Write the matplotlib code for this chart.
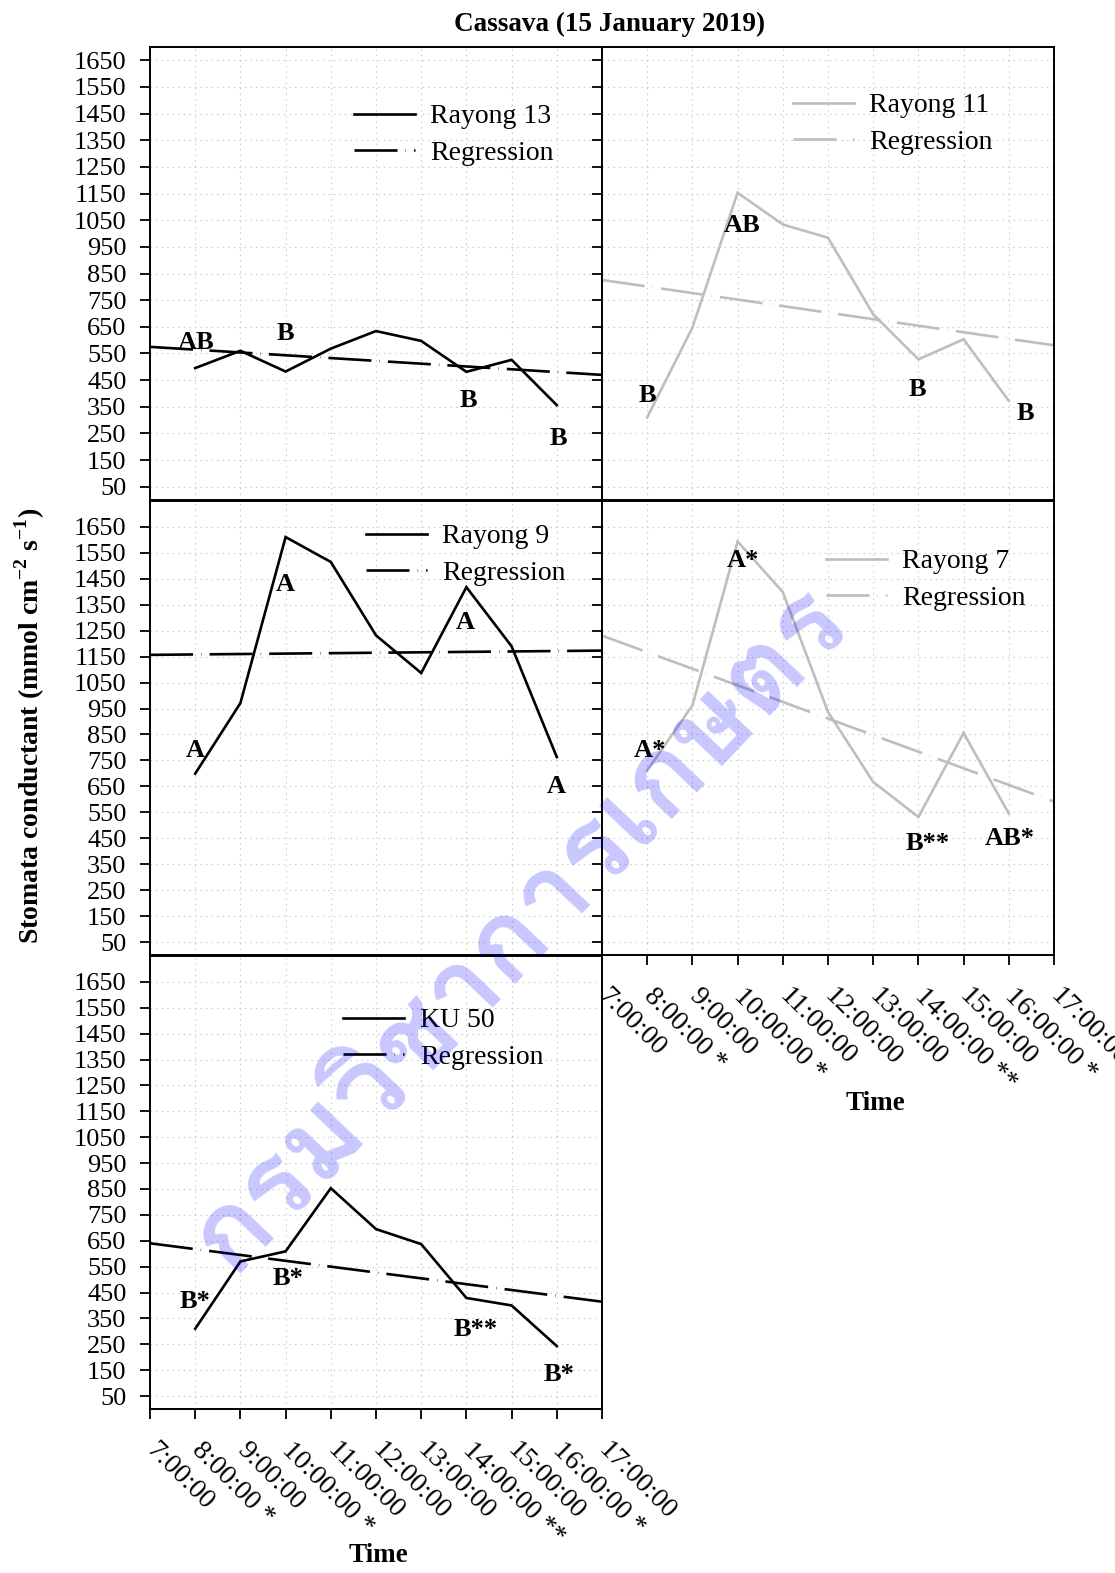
import numpy as np
import matplotlib
matplotlib.use("Agg")
import matplotlib.pyplot as plt
from matplotlib import font_manager
from matplotlib.ft2font import FT2Font

# ---- data ----
hours = [8, 9, 10, 11, 12, 13, 14, 15, 16]
tick_hours = list(range(7, 18))
tick_labels = ["7:00:00", "8:00:00 *", "9:00:00", "10:00:00 *", "11:00:00",
               "12:00:00", "13:00:00", "14:00:00 **", "15:00:00", "16:00:00 *",
               "17:00:00"]
y_ticks = list(range(50, 1651, 100))

rayong13 = [495, 560, 482, 568, 634, 597, 481, 526, 356]
rayong11 = [310, 647, 1153, 1034, 984, 697, 528, 603, 372]
rayong9 = [699, 971, 1611, 1515, 1232, 1087, 1418, 1190, 763]
rayong7 = [711, 962, 1594, 1399, 937, 667, 532, 856, 545]
ku50 = [310, 570, 609, 853, 695, 637, 429, 400, 243]

letters_r13 = ["AB", "B", "B", "B"]
letters_r11 = ["B", "AB", "B", "B"]
letters_r9 = ["A", "A", "A", "A"]
letters_r7 = ["A*", "A*", "B**", "AB*"]
letters_ku50 = ["B*", "B*", "B**", "B*"]

# where the letters sit (hour, value)
letter_pos_r13 = [(8.02, 592), (10.0, 626), (14.04, 375), (16.03, 232)]
letter_pos_r11 = [(8.0, 394), (10.1, 1030), (13.97, 416), (16.36, 326)]
letter_pos_r9 = [(8.0, 787), (9.99, 1427), (13.97, 1281), (15.98, 649)]
letter_pos_r7 = [(8.06, 787), (10.12, 1520), (14.21, 429), (16.03, 448)]
letter_pos_ku50 = [(8.0, 415), (10.05, 505), (14.2, 307), (16.05, 133)]

plt.rcParams["font.family"] = ["Liberation Serif", "DejaVu Serif"]
plt.rcParams["mathtext.fontset"] = "custom"
plt.rcParams["mathtext.rm"] = "Liberation Serif"
plt.rcParams["mathtext.bf"] = "Liberation Serif:bold"
plt.rcParams["lines.scale_dashes"] = False

BLACK = "black"
GREY = "#bebebe"
REG_DASH = (0, (31, 5.8, 0.3, 5.8))

W, H = 1115, 1573
fig = plt.figure(figsize=(W / 100, H / 100), dpi=100)


def frac(x0, y_top, x1, y_bot):
    return [x0 / W, 1 - y_bot / H, (x1 - x0) / W, (y_bot - y_top) / H]


panels = [
    dict(rect=frac(150, 47, 602, 500), ylim=1700, series=rayong13, name="Rayong 13",
         color=BLACK, letters=letters_r13, lpos=letter_pos_r13, leg=(0.420, 0.905),
         ylabels=True, xlabels=False),
    dict(rect=frac(602, 47, 1054, 500), ylim=1700, series=rayong11, name="Rayong 11",
         color=GREY, letters=letters_r11, lpos=letter_pos_r11, leg=(0.391, 0.929),
         ylabels=False, xlabels=False),
    dict(rect=frac(150, 501, 602, 955), ylim=1750, series=rayong9, name="Rayong 9",
         color=BLACK, letters=letters_r9, lpos=letter_pos_r9, leg=(0.447, 0.980),
         ylabels=True, xlabels=False),
    dict(rect=frac(602, 501, 1054, 955), ylim=1750, series=rayong7, name="Rayong 7",
         color=GREY, letters=letters_r7, lpos=letter_pos_r7, leg=(0.465, 0.925),
         ylabels=False, xlabels=True),
    dict(rect=frac(150, 956, 602, 1409), ylim=1750, series=ku50, name="KU 50",
         color=BLACK, letters=letters_ku50, lpos=letter_pos_ku50, leg=(0.397, 0.916),
         ylabels=True, xlabels=True),
]

for p in panels:
    ax = fig.add_axes(p["rect"])
    ax.set_xlim(7, 17)
    ax.set_ylim(0, p["ylim"])
    ax.set_xticks(tick_hours)
    ax.set_yticks(y_ticks)
    ax.grid(True, color="#c8c8c8", linestyle=(0, (1, 3)), linewidth=0.8)
    ax.set_axisbelow(True)

    ax.plot(hours, p["series"], color=p["color"], lw=1.9, label=p["name"],
            solid_joinstyle="miter")
    slope, icpt = np.polyfit(hours, p["series"], 1)
    xr = np.array([7, 17])
    ax.plot(xr, slope * xr + icpt, color=p["color"], lw=1.9,
            linestyle=REG_DASH, label="Regression")

    for txt, (hx, vy) in zip(p["letters"], p["lpos"]):
        ax.text(hx, vy, txt, ha="center", va="center", fontsize=19,
                fontweight="bold")

    ax.legend(loc="upper left", bbox_to_anchor=p["leg"], frameon=False,
              borderpad=0, fontsize=20, handlelength=2.2, handletextpad=0.55,
              labelspacing=0.4)

    for s in ax.spines.values():
        s.set_linewidth(1.4)
    ax.tick_params(axis="both", direction="out", length=7, width=1.3,
                   labelsize=19)
    ax.tick_params(axis="y", pad=10)
    if p["ylabels"]:
        ax.set_yticklabels([str(v) for v in y_ticks])
    else:
        ax.set_yticklabels([])
    if p["xlabels"]:
        ax.set_xticklabels(tick_labels, rotation=-45, ha="left", va="center",
                           rotation_mode="anchor", fontsize=20)
        ax.tick_params(axis="x", pad=20)
    else:
        ax.set_xticklabels([])

fig.text(610 / W, 1 - 24 / H, "Cassava (15 January 2019)", ha="center",
         va="center", fontsize=19.5, fontweight="bold")
fig.text(30 / W, 1 - 726 / H, r"Stomata conductant (mmol cm$^{\mathbf{-2}}$ s$^{\mathbf{-1}}$)",
         rotation=90, ha="center", va="center", fontsize=20, fontweight="bold")
fig.text(378 / W, 1 - 1555 / H, "Time", ha="center", va="center", fontsize=19.5,
         fontweight="bold")
fig.text(875 / W, 1 - 1103 / H, "Time", ha="center", va="center", fontsize=19.5,
         fontweight="bold")


# watermark, only if some installed font carries Thai glyphs (bold preferred)
def thai_font():
    found = []
    for f in font_manager.fontManager.ttflist:
        try:
            if 0x0E01 in FT2Font(f.fname).get_charmap():
                found.append(f.fname)
        except Exception:
            continue
    bold = [f for f in found if "bold" in f.lower()]
    return (bold or found or [None])[0]


tf = thai_font()
if tf:
    fig.text(520 / W, 1 - 930 / H, "กรมวิชาการเกษตร", rotation=46.5,
             ha="center", va="center", fontsize=80, color="#0000ff",
             alpha=0.22, font=font_manager.FontProperties(fname=tf), zorder=10)

fig.savefig("out.png", dpi=100)
